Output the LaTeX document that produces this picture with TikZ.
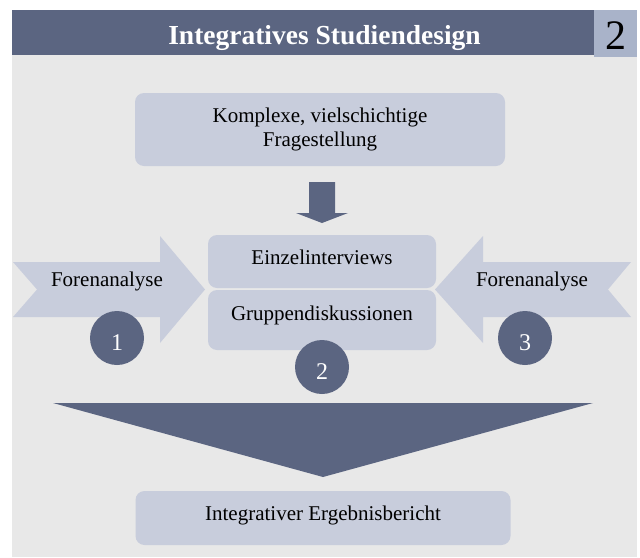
\documentclass[tikz,border=0pt]{standalone}
\usepackage{fontspec}
\setmainfont{Liberation Serif}
\definecolor{bgray}{HTML}{E8E8E8}
\definecolor{slate}{HTML}{5B6581}
\definecolor{lightbox}{HTML}{C8CDDC}
\definecolor{numbox}{HTML}{A9B3C9}
\begin{document}
\begin{tikzpicture}[x=1pt,y=-1pt,
  box/.style={fill=lightbox, rounded corners=9pt, inner sep=0pt, align=center,
    font=\fontsize{21}{24}\selectfont},
  numcirc/.style={circle, fill=slate, minimum size=54pt, inner sep=0pt, text=white,
    font=\fontsize{24}{24}\selectfont, text height=24pt, text depth=0pt},
  blockarrow/.style={fill=lightbox},
  darkshape/.style={fill=slate},
  lbl/.style={anchor=base, inner sep=0pt, font=\fontsize{21}{24}\selectfont}]
\useasboundingbox (0,0) rectangle (640,557);
% background and header
\fill[bgray] (12,10) rectangle (637,557);
\fill[darkshape] (12,10) rectangle (594,55);
\fill[numbox] (594,10) rectangle (637,57);
\node[anchor=base, inner sep=0pt, text=white, font=\bfseries\fontsize{27.5}{27.5}\selectfont] (title) at (324.5,44) {Integratives Studiendesign};
\node[anchor=base, inner sep=0pt, font=\fontsize{42}{42}\selectfont] (hnum) at (616,49.5) {2};
% question box
\node[box, minimum width=370pt, minimum height=73pt] (q) at (320,129.5) {Komplexe, vielschichtige\\Fragestellung};
% small down arrow
\fill[darkshape] (309,182) -- (335,182) -- (335,213) -- (348,213) -- (322,223) -- (296,213) -- (309,213) -- cycle;
% side arrows
\fill[blockarrow] (13,262) -- (160,262) -- (160,236) -- (205,289.5) -- (160,343) -- (160,317) -- (13,317) -- (37,289.5) -- cycle;
\fill[blockarrow] (631,262) -- (483,262) -- (483,236) -- (435,289.5) -- (483,343) -- (483,317) -- (631,317) -- (608,289.5) -- cycle;
\node[lbl] (fl) at (107,286.5) {Forenanalyse};
\node[lbl] (fr) at (532,286.5) {Forenanalyse};
% middle boxes
\node[box, minimum width=228pt, minimum height=53pt, text height=14pt, text depth=9pt] (ei) at (322,261.5) {Einzelinterviews};
\node[box, minimum width=228pt, minimum height=60pt, text height=12pt, text depth=12pt] (gd) at (322,320) {Gruppendiskussionen};
% number circles
\node[numcirc] (c1) at (117,338) {1};
\node[numcirc] (c2) at (322,367) {2};
\node[numcirc] (c3) at (525,338) {3};
% big triangle
\fill[darkshape] (53,403) -- (593,403) -- (323,477) -- cycle;
% result box
\node[box, minimum width=375pt, minimum height=54pt, text height=14pt, text depth=10pt] (res) at (323,518) {Integrativer Ergebnisbericht};
\end{tikzpicture}
\end{document}
